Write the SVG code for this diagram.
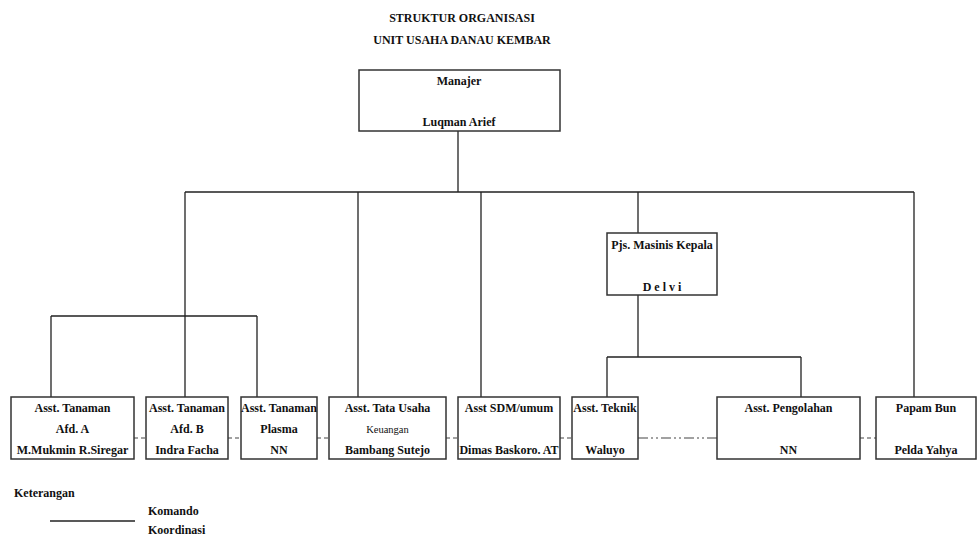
<svg xmlns="http://www.w3.org/2000/svg" width="977" height="538" viewBox="0 0 977 538" font-family="'Liberation Serif', 'Times New Roman', Tinos, 'DejaVu Serif', serif">
<style>
text{font-family:'Liberation Serif','Times New Roman',Tinos,'DejaVu Serif',serif;font-weight:bold;font-size:12px;fill:#111;text-anchor:middle}
.box{fill:#fff;stroke:#333;stroke-width:1.5}
.ln{fill:none;stroke:#222;stroke-width:1.3}
.dash{fill:none;stroke:#444;stroke-width:1.2;stroke-dasharray:4,3}
.dd{fill:none;stroke:#444;stroke-width:1.2;stroke-dasharray:10,3,2,3,2,3}
.small{font-weight:normal;font-size:10.5px}
.left{text-anchor:start}
</style>
<rect width="977" height="538" fill="#fff"/>
<g id="title">
<text x="462" y="22">STRUKTUR ORGANISASI</text>
<text x="462" y="44">UNIT USAHA DANAU KEMBAR</text>
</g>
<g id="connectors">
<path class="ln" d="M458 131V192M185 192H914M185 192V397M358 192V397M481 192V397M638 192V233M914 192V397"/>
<path class="ln" d="M51 316H257M51 316V397M257 316V397"/>
<path class="ln" d="M638 295V357M607 357H801M607 357V397M801 357V397"/>
<path class="dash" d="M134 438H146M228 438H241M317 438H329M446 438H458M560 438H572M860 438H876"/>
<path class="dd" d="M638 438H717"/>
</g>
<g id="manajer">
<rect class="box" x="359" y="70" width="201" height="61"/>
<text x="459" y="85">Manajer</text>
<text x="459" y="126">Luqman Arief</text>
</g>
<g id="pjs">
<rect class="box" x="607" y="233" width="110" height="62"/>
<text x="662" y="249">Pjs. Masinis Kepala</text>
<text x="662" y="291">D e l v i</text>
</g>
<g id="afd-a">
<rect class="box" x="11" y="397" width="123" height="62"/>
<text x="72.5" y="412">Asst. Tanaman</text>
<text x="72.5" y="433">Afd. A</text>
<text x="72.5" y="454">M.Mukmin R.Siregar</text>
</g>
<g id="afd-b">
<rect class="box" x="146" y="397" width="82" height="62"/>
<text x="187" y="412">Asst. Tanaman</text>
<text x="187" y="433">Afd. B</text>
<text x="187" y="454">Indra Facha</text>
</g>
<g id="plasma">
<rect class="box" x="241" y="397" width="76" height="62"/>
<text x="279" y="412">Asst. Tanaman</text>
<text x="279" y="433">Plasma</text>
<text x="279" y="454">NN</text>
</g>
<g id="tata-usaha">
<rect class="box" x="329" y="397" width="117" height="62"/>
<text x="387.5" y="412">Asst. Tata Usaha</text>
<text class="small" x="387.5" y="433">Keuangan</text>
<text x="387.5" y="454">Bambang Sutejo</text>
</g>
<g id="sdm">
<rect class="box" x="458" y="397" width="102" height="62"/>
<text x="509" y="412">Asst SDM/umum</text>
<text x="509" y="454">Dimas Baskoro. AT</text>
</g>
<g id="teknik">
<rect class="box" x="572" y="397" width="66" height="62"/>
<text x="605" y="412">Asst. Teknik</text>
<text x="605" y="454">Waluyo</text>
</g>
<g id="pengolahan">
<rect class="box" x="717" y="397" width="143" height="62"/>
<text x="788.5" y="412">Asst. Pengolahan</text>
<text x="788.5" y="454">NN</text>
</g>
<g id="papam">
<rect class="box" x="876" y="397" width="100" height="62"/>
<text x="926" y="412">Papam Bun</text>
<text x="926" y="454">Pelda Yahya</text>
</g>
<g id="legend">
<text class="left" x="14" y="497">Keterangan</text>
<line class="ln" x1="50" y1="521" x2="135" y2="521"/>
<text class="left" x="148" y="515">Komando</text>
<text class="left" x="148" y="534">Koordinasi</text>
</g>
</svg>
